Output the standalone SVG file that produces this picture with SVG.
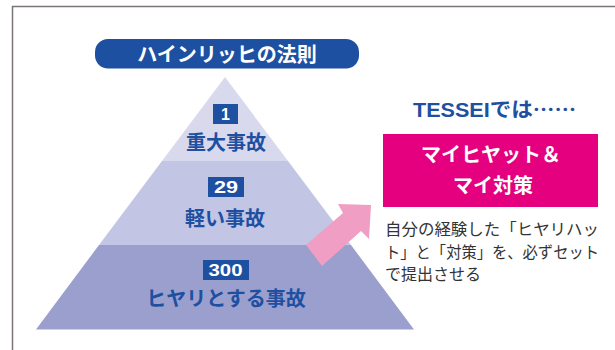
<svg xmlns="http://www.w3.org/2000/svg" width="615" height="350" viewBox="0 0 615 350">
  <style>
    .tier-label { font-family: "Noto Sans CJK JP", sans-serif; font-weight: bold; font-size: 20px; fill: #1e50a2; text-anchor: middle; }
    .num-box { fill: #1e50a2; }
    .num { font-family: "Liberation Sans", Arial, sans-serif; font-weight: bold; font-size: 16px; fill: #ffffff; }
    .body { font-family: "Noto Sans CJK JP", sans-serif; font-size: 16px; fill: #333333; }
    .white-bold { font-family: "Noto Sans CJK JP", sans-serif; font-weight: bold; font-size: 20px; fill: #ffffff; text-anchor: middle; }
  </style>
  <rect width="615" height="350" fill="#ffffff"/>
  <!-- frame -->
  <path d="M12.5,350 V6.5 H615" fill="none" stroke="#7a7474" stroke-width="1.5"/>

  <g id="title">
    <rect x="95" y="39" width="264" height="29.5" rx="13" fill="#1e50a2"/>
    <text x="227" y="62" class="white-bold" font-size="21">ハインリッヒの法則</text>
  </g>

  <g id="tier-top">
    <polygon points="225,77 288,161 162,161" fill="#d9d9ee"/>
    <rect x="213" y="104" width="25" height="20" class="num-box"/>
    <text x="221" y="120" class="num">1</text>
    <text x="226" y="150" class="tier-label">重大事故</text>
  </g>

  <g id="tier-middle">
    <polygon points="162,161 288,161 351,245 99,245" fill="#c2c5e4"/>
    <rect x="208" y="177" width="36" height="20" class="num-box"/>
    <text x="214" y="193" class="num" textLength="24" lengthAdjust="spacingAndGlyphs">29</text>
    <text x="225" y="226" class="tier-label">軽い事故</text>
  </g>

  <g id="tier-bottom">
    <polygon points="99,245 351,245 414,329.5 36,329.5" fill="#9a9fcd"/>
    <rect x="203" y="260" width="46" height="20" class="num-box"/>
    <text x="208.5" y="276" class="num" textLength="34" lengthAdjust="spacingAndGlyphs">300</text>
    <text x="226" y="306" class="tier-label">ヒヤリとする事故</text>
  </g>

  <g id="connectors">
    <polygon points="306,245 343,213 338,204 371,205 369,239 361,231 322,266" fill="#f09ec3"/>
  </g>

  <g id="tessei-label">
    <text x="413" y="117" font-family="'Liberation Sans', 'Noto Sans CJK JP', sans-serif" font-weight="bold" font-size="20" fill="#1e50a2" textLength="163" lengthAdjust="spacingAndGlyphs">TESSEI<tspan font-family="'Noto Sans CJK JP', sans-serif">では……</tspan></text>
  </g>

  <g id="my-hiyat">
    <rect x="383" y="134" width="215" height="73" fill="#e4007f"/>
    <text x="491" y="162" class="white-bold">マイヒヤット＆</text>
    <text x="493" y="193" class="white-bold">マイ対策</text>
  </g>

  <g id="description">
    <text x="385" y="235" class="body" textLength="214" lengthAdjust="spacingAndGlyphs">自分の経験した「ヒヤリハッ</text>
    <text x="385" y="258" class="body" textLength="214" lengthAdjust="spacingAndGlyphs">ト」と「対策」を、必ずセット</text>
    <text x="385" y="280" class="body">で提出させる</text>
  </g>
</svg>
